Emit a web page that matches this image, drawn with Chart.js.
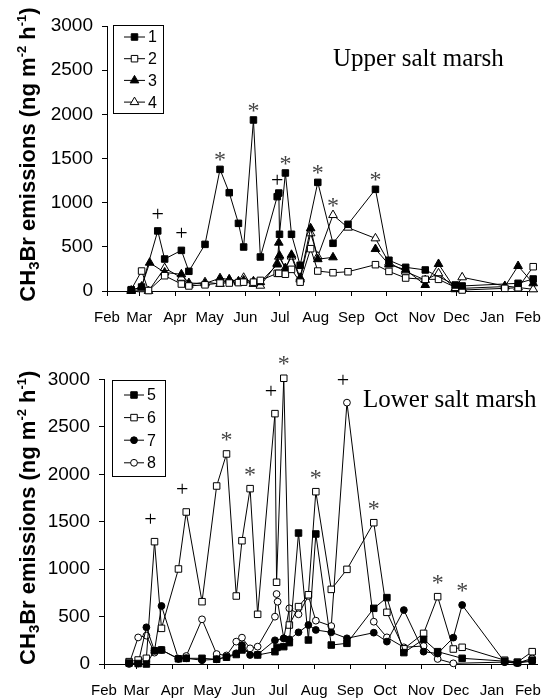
<!DOCTYPE html>
<html lang="en">
<head>
<meta charset="UTF-8">
<title>CH3Br emissions - salt marsh</title>
<script src="https://cdn.jsdelivr.net/npm/chart.js"></script>
<style>
  body { margin: 0; background: #fff; }
  canvas { position: absolute; left: 0; }
  #upperChart { top: 0; }
  #lowerChart { top: 325px; }
</style>
</head>
<body>
<canvas id="upperChart" width="554" height="325"></canvas>
<canvas id="lowerChart" width="554" height="373"></canvas>

<script>
// x = days after 1 Feb, month ticks
const monthDays = [0, 28, 59, 89, 120, 150, 181, 212, 242, 273, 303, 334, 365];
const monthLabels = ['Feb', 'Mar', 'Apr', 'May', 'Jun', 'Jul', 'Aug', 'Sep', 'Oct', 'Nov', 'Dec', 'Jan', 'Feb'];

// upper salt marsh
const days1 = [21, 30, 44, 50, 64.5, 71, 85, 98, 106, 114, 118.5, 127, 133, 147.6, 149, 149.6, 154.7, 160, 167.5, 182.8, 196, 209, 232.8, 244.5, 259, 276, 302, 308, 356.5, 369.6];
const vals1 = [10, 45, 680, 362, 460, 223, 528, 1377, 1113, 766, 498, 1936, 385, 1068, 1109, 642, 1336, 642, 291, 1230, 540, 755, 1151, 348, 268, 238, 68, 57, 87, 136];

const days2 = [21, 30, 36, 50, 64.5, 71, 85, 98, 106, 114, 118.5, 127, 133, 147.6, 149, 154.7, 160, 167.5, 176.6, 182.8, 196, 209, 232.8, 244.5, 259, 276, 287.5, 302, 308, 345, 356.5, 369.6];
const vals2 = [15, 226, 5, 173, 79, 57, 70, 90, 90, 95, 100, 100, 120, 200, 200, 190, 245, 100, 479, 226, 207, 218, 298, 222, 147, 132, 132, 42, 11, 30, 37, 275];

const days3 = [21, 30, 37, 50, 64.5, 71, 85, 98, 106, 114, 118.5, 127, 133, 147.6, 149, 149.6, 154.7, 160, 167.5, 176.6, 182.8, 196, 210, 232.8, 244.5, 259, 276, 287.5, 302, 308, 345, 356.5, 369.6];
const vals3 = [5, 50, 320, 210, 189, 90, 85, 145, 130, 110, 120, 110, 100, 300, 547, 400, 250, 410, 150, 710, 360, 381, null, 475, 300, 240, 68, 306, 20, 30, 50, 283, 87];

const days4 = [21, 30, 36, 50, 64.5, 71, 85, 98, 106, 114, 118.5, 127, 133, 147.6, 149, 154.7, 160, 167.5, 176.6, 182.8, 196, 209, 232.8, 244.5, 259, 276, 287.5, 302, 308, 345, 356.5, 369.6];
const vals4 = [0, 20, 0, 260, 150, 70, 100, 80, 130, 100, 150, 80, 60, 313, 388, 260, 390, 130, 653, 390, 860, 717, 596, 320, 220, 124, 200, 30, 155, 57, 40, 19];

// lower salt marsh
const days5 = [21.6, 29.4, 36.5, 43.5, 49.5, 64.1, 70.8, 84.4, 97, 105.5, 113.9, 118.8, 132.3, 147.2, 149, 154.8, 159.6, 167.5, 176, 182.4, 195.7, 209.2, 232.3, 243.6, 258.2, 275.2, 287.3, 308.4, 345, 356, 368.7];
const vals5 = [10, 5, 0, 140, 148, 55, 60, 60, 50, 71, 100, 148, 95, 130, 175, 183, 225, 1381, 253, 1371, 200, 218, 587, 700, 120, 260, 130, 60, 30, 15, 40];

const days6 = [21.6, 29.4, 36.5, 43.5, 49.5, 64.1, 70.8, 84.4, 97, 105.5, 113.9, 118.8, 125.8, 132.3, 147.2, 148.6, 154.8, 159.6, 167.5, 176, 182.4, 195.7, 209.2, 232.3, 243.6, 258.2, 275.2, 287.3, 300.8, 308.4, 345, 356, 368.7];
const vals6 = [25, 42, 60, 1290, 376, 1002, 1603, 657, 1877, 2215, 717, 1300, 1849, 524, 2640, 862, 3013, 411, 605, 730, 1817, 787, 998, 1490, 545, 160, 323, 710, 158, 176, 40, 20, 130];

const days7 = [21.6, 29.4, 36.5, 43.5, 49.5, 64.1, 70.8, 84.4, 97, 105.5, 113.9, 118.8, 125.8, 132.3, 147.2, 154.8, 159.6, 167.5, 176, 182.4, 195.7, 209.2, 232.3, 243.6, 258.2, 275.2, 287.3, 300.8, 308.4, 345, 356, 368.7];
const vals7 = [10, 5, 387, 140, 612, 55, 60, 40, 50, 75, 113, 200, 95, 100, 250, 270, 260, 334, 411, 359, 334, 271, 330, 236, 569, 130, 110, 278, 622, 20, 10, 30];

const days8 = [21.6, 29.4, 36.5, 43.5, 49.5, 64.1, 70.8, 84.4, 97, 105.5, 113.9, 118.8, 125.8, 132.3, 147.2, 148.6, 149.5, 154.8, 159.6, 167.5, 176, 182.4, 195.7, 209.2, 232.3, 243.6, 258.2, 275.2, 287.3, 300.8, 345, 356, 368.7];
const vals8 = [0, 280, 299, 120, 148, 55, 84, 471, 105, 90, 236, 278, 165, 183, 499, 738, 657, 271, 587, 524, 717, 457, 400, 2756, 446, 281, 176, 190, 53, 7, 20, 10, 59];

// significance marks: [dataset index, day, symbol]
const upperMarks = [[0, 44, '+'], [0, 64.5, '+'], [0, 147.6, '+'], [0, 98, '*'], [0, 127, '*'], [0, 154.7, '*'],
                    [0, 182.8, '*'], [0, 232.8, '*'], [3, 196, '*']];
const lowerMarks = [[1, 43.5, '+'], [1, 70.8, '+'], [1, 147.2, '+'], [3, 209.2, '+'], [1, 105.5, '*'], [1, 125.8, '*'],
                    [1, 154.8, '*'], [1, 182.4, '*'], [1, 232.3, '*'], [1, 287.3, '*'], [2, 308.4, '*']];

const SANS = '"Liberation Sans", Arial, sans-serif';
const SERIF = '"Liberation Serif", "Times New Roman", serif';

function pts(days, vals) {
  return days.map((d, i) => ({ x: d, y: vals[i] }));
}

function series(label, days, vals, style, filled, radius) {
  return {
    label: label,
    data: pts(days, vals),
    borderColor: '#000',
    borderWidth: 1,
    pointStyle: style,
    pointRadius: radius,
    pointBorderColor: '#000',
    pointBorderWidth: 1,
    pointBackgroundColor: filled ? '#000' : '#fff',
    tension: 0,
    spanGaps: false,
    clip: false
  };
}

// marker drawing for the legend
function marker(ctx, ds, x, y) {
  ctx.fillStyle = ds.pointBackgroundColor;
  ctx.strokeStyle = ds.pointBorderColor;
  ctx.lineWidth = 1;
  if (Chart.helpers && Chart.helpers.drawPoint) {
    Chart.helpers.drawPoint(ctx, { pointStyle: ds.pointStyle, radius: ds.pointRadius, rotation: 0, borderWidth: 1 }, x, y);
  }
}

function boxLegend(box) {
  return {
    id: 'boxLegend',
    afterDraw(chart) {
      const ctx = chart.ctx;
      ctx.save();
      ctx.strokeStyle = '#000';
      ctx.lineWidth = 1;
      ctx.strokeRect(box.x + 0.5, box.y + 0.5, box.w, box.h);
      ctx.font = '16px ' + SANS;
      ctx.textBaseline = 'middle';
      chart.data.datasets.forEach((ds, i) => {
        const y = box.firstY + i * box.rowH;
        ctx.beginPath();
        ctx.strokeStyle = '#000';
        ctx.moveTo(box.lineX1, y);
        ctx.lineTo(box.lineX2, y);
        ctx.stroke();
        marker(ctx, ds, (box.lineX1 + box.lineX2) / 2, y);
        ctx.fillStyle = '#000';
        ctx.fillText(ds.label, box.textX, y + 1);
      });
      ctx.restore();
    }
  };
}

function marks(list, off) {
  return {
    id: 'marks',
    afterDatasetsDraw(chart) {
      const ctx = chart.ctx;
      ctx.save();
      ctx.textAlign = 'center';
      ctx.textBaseline = 'alphabetic';
      list.forEach(([ds, day, sym]) => {
        const idx = chart.data.datasets[ds].data.findIndex(p => p.x === day);
        const el = chart.getDatasetMeta(ds).data[idx];
        if (!el) return;
        if (sym === '+') {
          ctx.font = '22px ' + SERIF;
          ctx.fillStyle = '#000';
          ctx.fillText('+', el.x + off.plusDx, el.y - off.plusDy + 5);
        } else {
          ctx.font = '24px ' + SERIF;
          ctx.fillStyle = '#444';
          ctx.fillText('*', el.x, el.y - off.starDy + 11);
        }
      });
      ctx.restore();
    }
  };
}

function yTitle(cx) {
  return {
    id: 'yTitle',
    afterDraw(chart) {
      const ctx = chart.ctx;
      const a = chart.chartArea;
      const parts = [['CH', 0], ['3', -1], ['Br emissions (ng m', 0], ['-2', 1], [' h', 0], ['-1', 1], [')', 0]];
      const big = 'bold 22px ' + SANS;
      const sub = 'bold 15px ' + SANS;
      const sup = 'bold 13px ' + SANS;
      const fontOf = p => p[1] === 0 ? big : (p[1] < 0 ? sub : sup);
      ctx.save();
      ctx.translate(cx, (a.top + a.bottom) / 2 - 4);
      ctx.rotate(-Math.PI / 2);
      let total = 0;
      parts.forEach(p => { ctx.font = fontOf(p); total += ctx.measureText(p[0]).width; });
      let x = -total / 2;
      ctx.fillStyle = '#000';
      ctx.textBaseline = 'alphabetic';
      parts.forEach(p => {
        ctx.font = fontOf(p);
        const dy = p[1] === -1 ? 4 : (p[1] === 1 ? -9 : 0);
        ctx.fillText(p[0], x, 8 + dy);
        x += ctx.measureText(p[0]).width;
      });
      ctx.restore();
    }
  };
}

function panelTitle(text, x, y) {
  return {
    id: 'panelTitle',
    afterDraw(chart) {
      const ctx = chart.ctx;
      ctx.save();
      ctx.font = '25px ' + SERIF;
      ctx.fillStyle = '#000';
      ctx.textBaseline = 'alphabetic';
      ctx.fillText(text, x, y);
      ctx.restore();
    }
  };
}

function options(padTop, yWidth) {
  return {
    responsive: false,
    animation: false,
    layout: { padding: { left: 0, right: 9, top: padTop, bottom: 0 } },
    plugins: { legend: { display: false }, tooltip: { enabled: false } },
    scales: {
      x: {
        type: 'linear',
        min: 0,
        max: 373,
        afterBuildTicks: s => { s.ticks = monthDays.map(v => ({ value: v })); },
        afterFit: s => { s.height = 34; },
        ticks: {
          autoSkip: false,
          maxRotation: 0,
          padding: 13,
          color: '#000',
          font: { family: SANS, size: 15 },
          callback: (v, i) => monthLabels[i]
        },
        grid: { drawOnChartArea: false, drawTicks: true, tickLength: 5, color: '#000' },
        border: { display: true, color: '#000', width: 1 }
      },
      y: {
        min: 0,
        max: 3000,
        afterFit: s => { s.width = yWidth; },
        ticks: { stepSize: 500, padding: 9, color: '#000', font: { family: SANS, size: 19 }, callback: v => String(v) },
        grid: { drawOnChartArea: false, drawTicks: true, tickLength: 5, color: '#000' },
        border: { display: true, color: '#000', width: 1 }
      }
    }
  };
}

new Chart(document.getElementById('upperChart'), {
  type: 'line',
  data: {
    datasets: [
      series('1', days1, vals1, 'rect', true, 4.6),
      series('2', days2, vals2, 'rect', false, 4.6),
      series('3', days3, vals3, 'triangle', true, 5),
      series('4', days4, vals4, 'triangle', false, 5)
    ]
  },
  options: options(26, 107),
  plugins: [
    marks(upperMarks, { plusDx: 0, plusDy: 15, starDy: 13 }),
    boxLegend({ x: 113, y: 25, w: 50, h: 88, firstY: 37, rowH: 21.7, lineX1: 124, lineX2: 145, textX: 148 }),
    yTitle(27),
    panelTitle('Upper salt marsh', 333, 66)
  ]
});

new Chart(document.getElementById('lowerChart'), {
  type: 'line',
  data: {
    datasets: [
      series('5', days5, vals5, 'rect', true, 4.6),
      series('6', days6, vals6, 'rect', false, 4.6),
      series('7', days7, vals7, 'circle', true, 3.4),
      series('8', days8, vals8, 'circle', false, 3.4)
    ]
  },
  options: options(54.5, 104),
  plugins: [
    marks(lowerMarks, { plusDx: -4, plusDy: 21, starDy: 18 }),
    boxLegend({ x: 112, y: 55, w: 53, h: 96, firstY: 70, rowH: 22.6, lineX1: 124, lineX2: 144, textX: 147 }),
    yTitle(27),
    panelTitle('Lower salt marsh', 363, 82)
  ]
});
</script>
</body>
</html>
